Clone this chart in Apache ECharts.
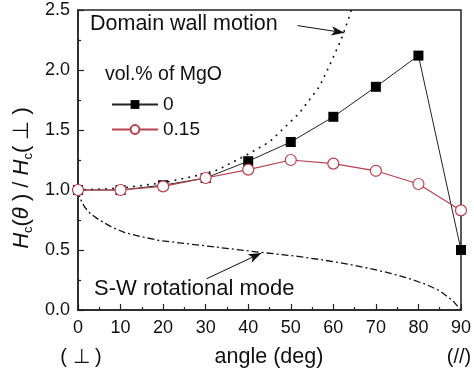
<!DOCTYPE html>
<html><head><meta charset="utf-8">
<script src="https://cdn.jsdelivr.net/npm/echarts@6/dist/echarts.min.js"></script>
<style>html,body{margin:0;padding:0;background:#fff}#c{width:474px;height:375px}</style>
</head><body><div id="c"></div>
<script>
// ---- data ----
const angles = [0, 10, 20, 30, 40, 50, 60, 70, 80, 90];
const hcMgO0 = [1.00, 1.00, 1.04, 1.10, 1.24, 1.40, 1.61, 1.86, 2.12, 0.50];
const hcMgO015 = [1.00, 1.00, 1.03, 1.10, 1.17, 1.25, 1.22, 1.16, 1.05, 0.83];
const seriesNames = ['0', '0.15'];

const dwAngles = [0, 10, 20, 28.6, 33, 40, 45, 52, 56.7, 59.4, 61.8, 63.9, 64.2];
const dwValues = [1.00, 1.015, 1.06, 1.125, 1.17, 1.30, 1.40, 1.64, 1.86, 2.06, 2.25, 2.46, 2.50];

const swAngles = [0, 0.5, 1.5, 3, 5, 8, 11, 15, 19, 25, 31, 37, 43, 51, 57, 63, 68, 73, 78, 82, 85, 88, 90];
const swValues = [1.00, 0.93, 0.86, 0.80, 0.75, 0.69, 0.645, 0.61, 0.58, 0.555, 0.53, 0.505, 0.48, 0.45, 0.42, 0.385, 0.35, 0.31, 0.26, 0.21, 0.16, 0.08, 0.00];

const xTickLabels = ['0', '10', '20', '30', '40', '50', '60', '70', '80', '90'];
const yTickLabels = ['0.0', '0.5', '1.0', '1.5', '2.0', '2.5'];

const dwArrow = [[51.6, 2.37], [62.6, 2.31]];
const swArrow = [[30.2, 0.26], [43.1, 0.475]];

// ---- chart ----
const FONT = '"Liberation Sans", Arial, sans-serif';
const INK = '#111';
const RED = '#b5424e';
const zip = (a, b) => a.map((v, i) => [v, b[i]]);

const chart = echarts.init(document.getElementById('c'), null, {renderer: 'canvas'});
chart.setOption({
  animation: false,
  backgroundColor: '#fff',
  textStyle: {fontFamily: FONT, color: INK},
  grid: {left: 78, right: 12, top: 10, bottom: 65, show: true, borderColor: '#222', borderWidth: 1.5, backgroundColor: 'transparent'},
  xAxis: {
    type: 'value', min: 0, max: 90, interval: 10,
    axisLine: {lineStyle: {color: '#222', width: 1.5}},
    axisTick: {inside: true, length: 6, lineStyle: {color: '#222', width: 1.2}},
    minorTick: {show: true, splitNumber: 2, length: 3, lineStyle: {color: '#222', width: 1.2}},
    splitLine: {show: false},
    axisLabel: {fontSize: 18, color: INK, fontFamily: FONT, margin: 9,
      formatter: v => xTickLabels[Math.round(v / 10)]}
  },
  yAxis: {
    type: 'value', min: 0, max: 2.5, interval: 0.5,
    axisLine: {show: true, lineStyle: {color: '#222', width: 1.5}},
    axisTick: {show: true, inside: true, length: 6, lineStyle: {color: '#222', width: 1.2}},
    minorTick: {show: true, splitNumber: 2, length: 3, lineStyle: {color: '#222', width: 1.2}},
    splitLine: {show: false},
    axisLabel: {fontSize: 18, color: INK, fontFamily: FONT, margin: 8,
      formatter: v => yTickLabels[Math.round(v / 0.5)]}
  },
  legend: {
    orient: 'vertical', left: 106, top: 90, itemWidth: 46, itemHeight: 11, itemGap: 6,
    data: seriesNames,
    textStyle: {fontSize: 19, color: INK, fontFamily: FONT}
  },
  series: [
    {
      type: 'line', name: 'domain', data: zip(dwAngles, dwValues), showSymbol: false, symbol: 'none',
      lineStyle: {color: INK, width: 1.8, type: [0.3, 6.7], cap: 'round'}, z: 1, silent: true,
      markLine: {
        silent: true, symbol: ['none', 'arrow'], symbolSize: [7, 13],
        lineStyle: {color: INK, width: 1, type: 'solid'}, label: {show: false},
        data: [
          [{coord: dwArrow[0]}, {coord: dwArrow[1]}],
          [{coord: swArrow[0]}, {coord: swArrow[1]}]
        ]
      }
    },
    {
      type: 'line', name: 'sw', data: zip(swAngles, swValues), showSymbol: false, symbol: 'none',
      lineStyle: {color: INK, width: 1.3, type: [7, 3, 2, 3]}, z: 1, silent: true
    },
    {
      type: 'line', name: seriesNames[0], data: zip(angles, hcMgO0), symbol: 'rect', symbolSize: 10,
      itemStyle: {color: '#000'}, lineStyle: {color: '#222', width: 1}, z: 3, clip: false
    },
    {
      type: 'line', name: seriesNames[1], data: zip(angles, hcMgO015), symbol: 'circle', symbolSize: 11,
      itemStyle: {color: '#fff', borderColor: RED, borderWidth: 1.2}, lineStyle: {color: RED, width: 1.2}, z: 4, clip: false
    }
  ],
  graphic: [
    {type: 'text', x: 90, y: 24, style: {text: 'Domain wall motion', font: '21.5px ' + FONT, fill: INK, textAlign: 'left', textVerticalAlign: 'middle'}},
    {type: 'text', x: 105, y: 75, style: {text: 'vol.% of MgO', font: '19.5px ' + FONT, fill: INK, textAlign: 'left', textVerticalAlign: 'middle'}},
    {type: 'text', x: 94, y: 289, style: {text: 'S-W rotational mode', font: '22px ' + FONT, fill: INK, textAlign: 'left', textVerticalAlign: 'middle'}},
    {type: 'text', x: 269, y: 357, style: {text: 'angle (deg)', font: '21.5px ' + FONT, fill: INK, textAlign: 'center', textVerticalAlign: 'middle'}},
    {type: 'text', x: 81, y: 357, style: {text: '( ⊥ )', font: '20px ' + FONT, fill: INK, textAlign: 'center', textVerticalAlign: 'middle'}},
    {type: 'text', x: 459, y: 357, style: {text: '(//)', font: '20px ' + FONT, fill: INK, textAlign: 'center', textVerticalAlign: 'middle'}},
    {type: 'text', x: 22, y: 178, rotation: Math.PI / 2,
      style: {
        text: '{i|H}{s|c}{n|(}{i|θ}{n| ) / }{i|H}{s|c}{n|( ⊥ )}',
        textAlign: 'center', textVerticalAlign: 'middle', fill: INK,
        rich: {
          i: {fontSize: 22, fontStyle: 'italic', fontFamily: FONT, lineHeight: 26},
          n: {fontSize: 22, fontFamily: FONT, lineHeight: 26},
          s: {fontSize: 13, fontFamily: FONT, lineHeight: 12, verticalAlign: 'bottom'}
        }
      }}
  ]
});
</script>
</body></html>
